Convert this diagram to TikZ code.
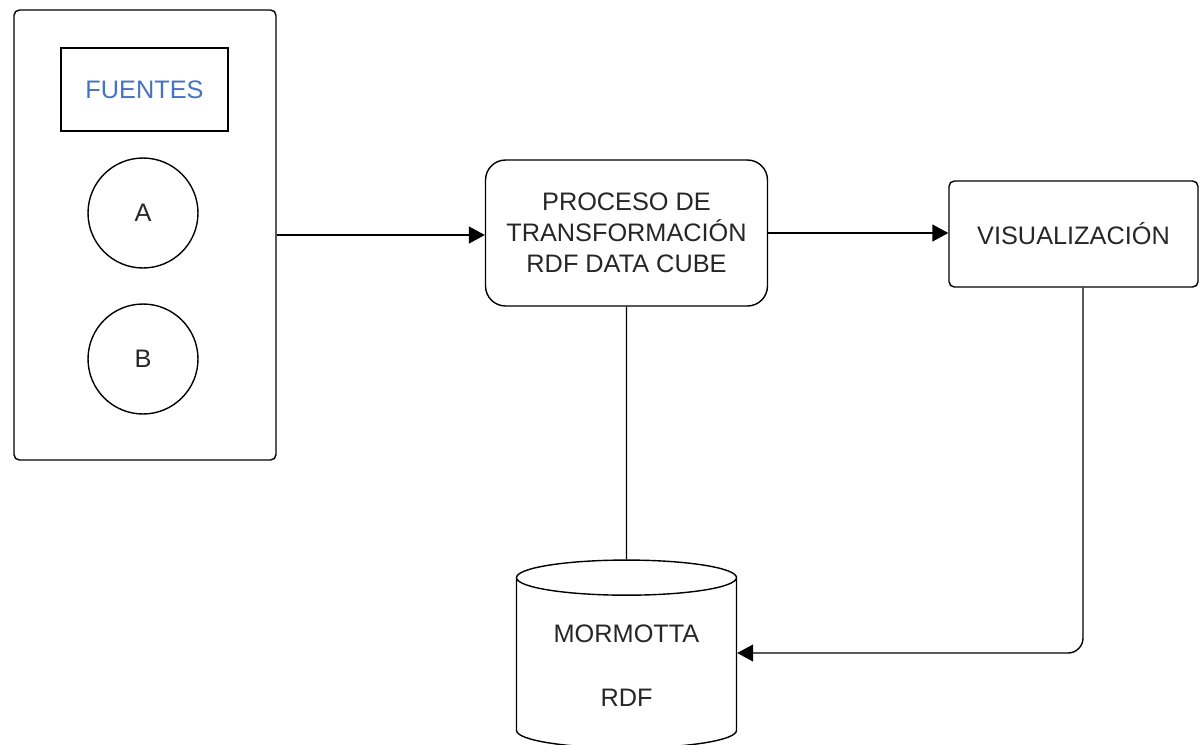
\documentclass[tikz,border=0pt]{standalone}
\usepackage{fontspec}
\setmainfont{Liberation Sans}
\usepackage{tikz}
\usetikzlibrary{arrows.meta,shapes.geometric}
\definecolor{fuenteblue}{RGB}{68,114,196}

\begin{document}
\begin{tikzpicture}[x=0.02cm, y=-0.02cm, line width=0.8pt, text=black!85,
  font=\fontsize{14.4}{17.6}\selectfont, >={Triangle[length=0.32cm,width=0.34cm]}]
\useasboundingbox (0,0) rectangle (1200,744);

\node[draw, rounded corners=3pt, minimum width=5.24cm, minimum height=9cm] at (145,235) (fuentes) {};
\node[draw, minimum width=3.34cm, minimum height=1.66cm, text=fuenteblue] at (144.5,89.5) (titulo) {FUENTES};
\node[draw, circle, minimum size=2.2cm] at (143,213) (a) {A};
\node[draw, circle, minimum size=2.2cm] at (143,359) (b) {B};

\node[draw, rounded corners=0.4cm, minimum width=5.64cm, minimum height=2.92cm, align=center] at (626.5,233) (proceso) {PROCESO DE\\TRANSFORMACIÓN\\RDF DATA CUBE};
\node[draw, rounded corners=3pt, minimum width=4.98cm, minimum height=2.12cm] at (1073.5,234) (vis) {VISUALIZACIÓN};
\node[draw, cylinder, shape border rotate=90, aspect=3, minimum width=4.4cm, minimum height=3.76cm,
  label={[align=center]center:MORMOTTA\\[19pt]RDF}] at (626.5,666) (mormotta) {};

\draw[->] (fuentes.east) -- (fuentes.east -| proceso.west);
\draw[->] (proceso.east) -- (proceso.east -| vis.west);
\draw (proceso.south) -- (mormotta.north);
\draw[->, rounded corners=0.3cm] ([xshift=0.19cm]vis.south) |- ([yshift=0.26cm]mormotta.east);

\end{tikzpicture}
\end{document}
